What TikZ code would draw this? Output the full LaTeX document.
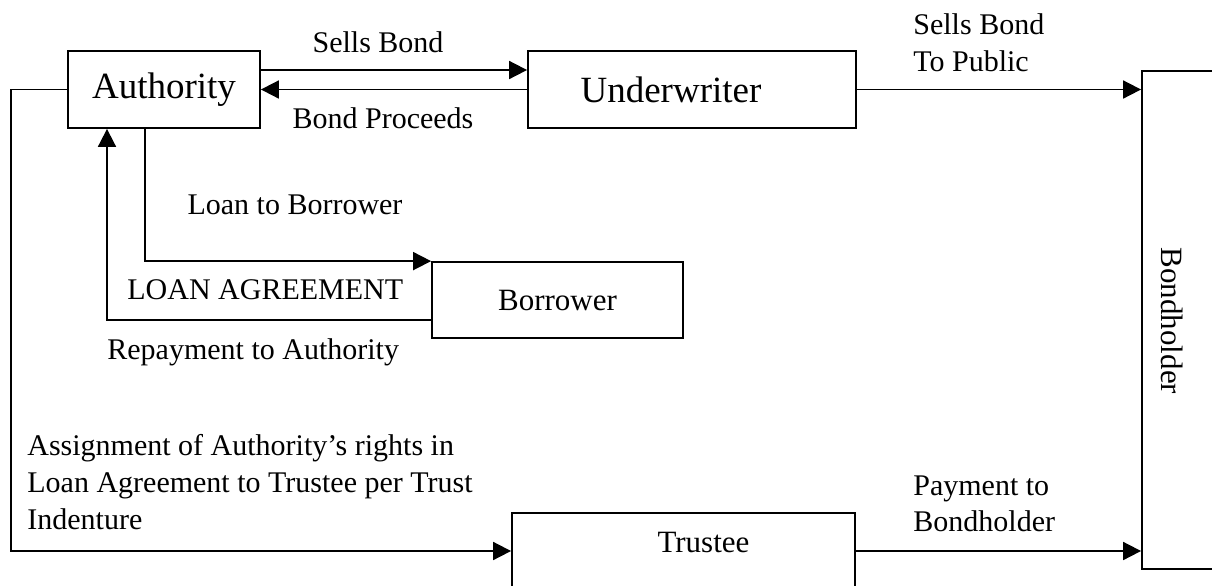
\documentclass[tikz,border=0pt]{standalone}
\usepackage{fontspec}
\setmainfont{Liberation Serif}
\usetikzlibrary{arrows.meta,positioning,calc}

\begin{document}
\begin{tikzpicture}[
    x=0.5pt, y=-0.5pt,
    box/.style={draw, line width=0.9pt, inner sep=0pt, font=\fontsize{15.5}{18}\selectfont},
    bigbox/.style={box, font=\fontsize{18.5}{22}\selectfont},
    lbl/.style={inner sep=0pt, align=left, font=\fontsize{15}{18.3}\selectfont},
    arr/.style={-{Triangle[length=9pt, width=9pt]}, line width=0.9pt}
]
\useasboundingbox (0,0) rectangle (1212,585);

% boxes
\node[bigbox, minimum width=96pt, minimum height=38.5pt] (auth) at (164,89.5) {Authority};
\node[bigbox, minimum width=164pt, minimum height=38.5pt] (under) at (692,89.5) {Underwriter\hspace*{21pt}};
\node[box, minimum width=125.5pt, minimum height=38pt] (borr) at (557.5,300) {Borrower};
\node[box, minimum width=171.5pt, inner ysep=0pt, text height=20pt, text depth=30pt, anchor=north] (trust) at (683.5,512) {\hspace*{20pt}Trustee};
\node[box, minimum width=40pt, minimum height=249pt] (bond) at (1182,320) {};
\node[inner sep=0pt, rotate=-90, font=\fontsize{15.5}{18}\selectfont] (bondtxt) at (1172,321) {Bondholder};

% labels
\node[lbl] (sells) at (378,42) {Sells Bond};
\node[lbl] (proceeds) at (383,118) {Bond Proceeds};
\node[lbl, anchor=west] (public) at (913,42.5) {Sells Bond\\To Public};
\node[lbl] (loan) at (295,205) {Loan to Borrower};
\node[lbl, anchor=west] (agree) at (127,290) {LOAN AGREEMENT};
\node[lbl, anchor=west] (repay) at (107,352) {Repayment to Authority};
\node[lbl, anchor=west] (assign) at (27,482) {Assignment of Authority’s rights in\\Loan Agreement to Trustee per Trust\\Indenture};
\node[lbl, anchor=west] (pay) at (913,504) {Payment to\\Bondholder};

\coordinate (lc) at (11,551);

% connectors
\draw[arr] (auth.east |- 0,70) -- (under.west |- 0,70);
\draw[arr] (under.west) -- (auth.east);
\draw[arr] (under.east) -- (bond.west |- under.east);
\draw[arr] (auth.south -| 145,0) |- (borr.north west);
\draw[arr] (borr.west |- 0,320) -| (auth.south -| 107,0);
\draw[arr] (auth.west) -| (lc) -- (lc -| trust.west);
\draw[arr] (trust.east |- lc) -- (bond.west |- lc);
\end{tikzpicture}
\end{document}
